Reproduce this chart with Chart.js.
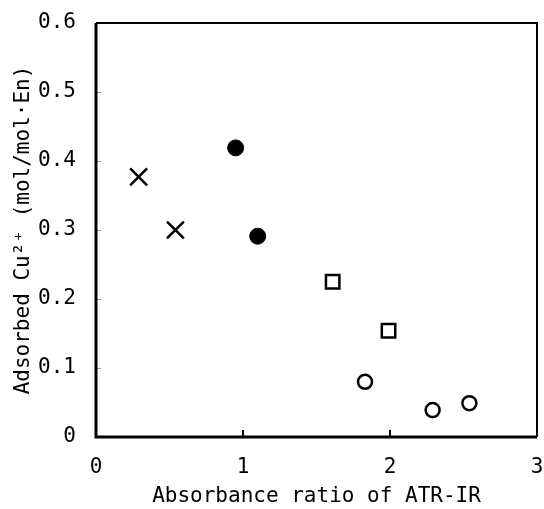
<!DOCTYPE html>
<html><head><meta charset="utf-8">
<script src="https://cdn.jsdelivr.net/npm/chart.js@4"></script>
<style>html,body{margin:0;padding:0;background:#fff;overflow:hidden}#wrap{width:544px;height:509px;position:relative}canvas{display:block}</style>
</head><body><div id="wrap"><canvas id="c"></canvas></div>
<script>
const xTicks = [0, 1, 2, 3];
const yTicks = [0, 0.1, 0.2, 0.3, 0.4, 0.5, 0.6];
const crossX = [0.29, 0.54];
const crossY = [0.377, 0.300];
const filledX = [0.95, 1.10];
const filledY = [0.419, 0.291];
const squareX = [1.61, 1.99];
const squareY = [0.225, 0.154];
const openX = [1.83, 2.29, 2.54];
const openY = [0.080, 0.039, 0.049];

const pts = (xs, ys) => xs.map((x, i) => ({x, y: ys[i]}));
const FONT = "'DejaVu Sans Mono', 'Liberation Mono', monospace";

const framePlugin = {
  id: 'frame',
  afterDraw(chart) {
    const {ctx, chartArea: a, scales} = chart;
    ctx.save();
    ctx.strokeStyle = '#000';
    ctx.lineWidth = 2;
    xTicks.slice(1, -1).forEach(v => {
      const px = Math.round(scales.x.getPixelForValue(v));
      ctx.beginPath(); ctx.moveTo(px, a.bottom); ctx.lineTo(px, a.bottom - 7); ctx.stroke();
    });
    ctx.strokeStyle = '#999'; ctx.lineWidth = 1;
    yTicks.slice(1, -1).forEach(v => {
      const py = Math.round(scales.y.getPixelForValue(v)) + 0.5;
      ctx.beginPath(); ctx.moveTo(a.left, py); ctx.lineTo(a.left + 5, py); ctx.stroke();
    });
    ctx.strokeStyle = '#000';
    ctx.lineWidth = 2;
    ctx.beginPath();
    ctx.moveTo(a.left, a.top); ctx.lineTo(a.right, a.top); ctx.lineTo(a.right, a.bottom);
    ctx.stroke();
    ctx.lineWidth = 3;
    ctx.beginPath();
    ctx.moveTo(a.left, a.top); ctx.lineTo(a.left, a.bottom); ctx.lineTo(a.right, a.bottom);
    ctx.stroke();
    ctx.restore();
  }
};

new Chart(document.getElementById('c'), {
  type: 'scatter',
  data: {
    datasets: [
      {data: pts(crossX, crossY), pointStyle: 'crossRot', pointRadius: 12, borderColor: '#000', borderWidth: 2.5, backgroundColor: '#000'},
      {data: pts(filledX, filledY), pointStyle: 'circle', pointRadius: 8, borderColor: '#000', borderWidth: 1, backgroundColor: '#000'},
      {data: pts(squareX, squareY), pointStyle: 'rect', pointRadius: 9.5, borderColor: '#000', borderWidth: 2.5, backgroundColor: '#fff'},
      {data: pts(openX, openY), pointStyle: 'circle', pointRadius: 7, borderColor: '#000', borderWidth: 2.5, backgroundColor: '#fff'}
    ]
  },
  options: {
    responsive: true, maintainAspectRatio: false, animation: false,
    layout: {autoPadding: false, padding: {left: 0, right: 7, top: 23, bottom: 0}},
    plugins: {legend: {display: false}, tooltip: {enabled: false}},
    scales: {
      x: {
        type: 'linear', min: 0, max: 3,
        afterBuildTicks: s => { s.ticks = xTicks.map(v => ({value: v})); },
        afterFit: s => { s.height = 72; s.paddingLeft = 0; s.paddingRight = 0; },
        grid: {display: false, drawTicks: false},
        border: {display: false},
        ticks: {color: '#000', padding: 18, font: {family: FONT, size: 21}, maxRotation: 0},
        title: {display: true, text: 'Absorbance ratio of ATR-IR', color: '#000', font: {family: FONT, size: 21}, padding: {top: 0, bottom: 0}}
      },
      y: {
        type: 'linear', min: 0, max: 0.6,
        afterBuildTicks: s => { s.ticks = yTicks.map(v => ({value: v})); },
        afterFit: s => { s.width = 96; s.paddingTop = 0; s.paddingBottom = 0; },
        grid: {display: false, drawTicks: false},
        border: {display: false},
        ticks: {color: '#000', padding: 20, font: {family: FONT, size: 21}, callback: v => v === 0 ? '0' : v.toFixed(1)},
        title: {display: true, text: 'Adsorbed Cu²⁺ (mol/mol·En)', color: '#000', font: {family: FONT, size: 21}, padding: {top: 11, bottom: 0}}
      }
    }
  },
  plugins: [framePlugin]
});
</script></body></html>
